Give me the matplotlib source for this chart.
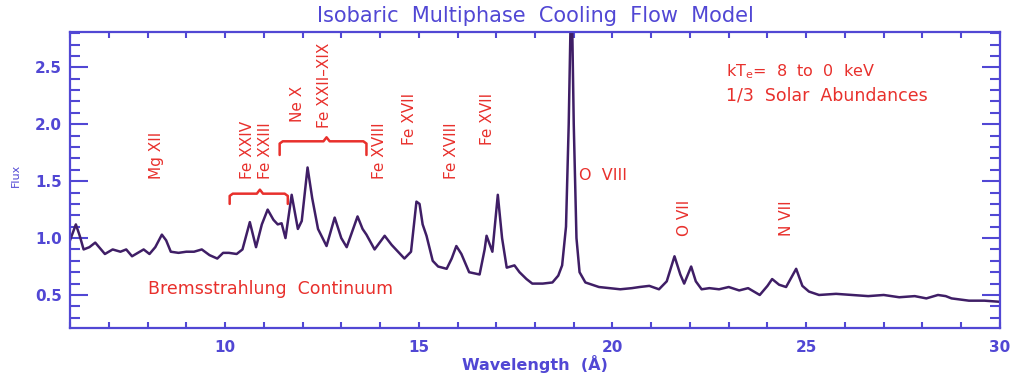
import matplotlib
matplotlib.use("Agg")
import matplotlib.pyplot as plt
from matplotlib.ticker import MultipleLocator

# Model spectrum: wavelength (Angstrom) and flux
wavelength = [
    6.0, 6.15, 6.25, 6.35, 6.5, 6.65, 6.8, 6.9, 7.1, 7.3, 7.45, 7.6, 7.8, 7.9,
    8.05, 8.2, 8.37, 8.48, 8.6, 8.8, 9.0, 9.2, 9.4, 9.6, 9.8, 9.95, 10.1, 10.3,
    10.45, 10.64, 10.8, 10.95, 11.1, 11.25, 11.36, 11.46, 11.56, 11.72, 11.88,
    11.98, 12.13, 12.25, 12.4, 12.62, 12.83, 13.0, 13.14, 13.42, 13.55, 13.65,
    13.86, 14.12, 14.3, 14.63, 14.8, 14.94, 15.02, 15.1, 15.2, 15.36, 15.5,
    15.72, 15.85, 15.97, 16.1, 16.3, 16.57, 16.7, 16.75, 16.9, 17.04, 17.15,
    17.27, 17.47, 17.6, 17.78, 17.93, 18.2, 18.45, 18.6, 18.7, 18.8, 18.87,
    18.94, 19.0, 19.07, 19.15, 19.3, 19.65, 20.2, 20.5, 20.7, 20.95, 21.2,
    21.4, 21.6, 21.75, 21.85, 22.03, 22.15, 22.3, 22.5, 22.75, 23.0, 23.27,
    23.5, 23.8, 24.0, 24.12, 24.3, 24.48, 24.74, 24.9, 25.07, 25.33, 25.77,
    26.2, 26.6, 27.0, 27.4, 27.8, 28.1, 28.4, 28.6, 28.75, 29.2, 29.6, 30.0,
]
flux = [
    0.98, 1.12, 1.02, 0.90, 0.92, 0.96, 0.90, 0.86, 0.90, 0.88, 0.90, 0.84, 0.88, 0.90,
    0.86, 0.92, 1.03, 0.98, 0.88, 0.87, 0.88, 0.88, 0.90, 0.85, 0.82, 0.87, 0.87, 0.86,
    0.90, 1.14, 0.92, 1.12, 1.25, 1.16, 1.12, 1.13, 1.00, 1.38, 1.08,
    1.15, 1.62, 1.35, 1.08, 0.93, 1.18, 1.00, 0.92, 1.19, 1.08, 1.03,
    0.90, 1.02, 0.94, 0.82, 0.88, 1.32, 1.30, 1.12, 1.02, 0.80, 0.75,
    0.73, 0.82, 0.93, 0.86, 0.70, 0.68, 0.90, 1.02, 0.88, 1.38, 1.00,
    0.74, 0.76, 0.70, 0.64, 0.60, 0.60, 0.61, 0.67, 0.76, 1.10, 2.00,
    3.30, 2.00, 1.00, 0.70, 0.61, 0.57, 0.55, 0.56, 0.57, 0.58, 0.55,
    0.62, 0.84, 0.68, 0.60, 0.75, 0.62, 0.55, 0.56, 0.55, 0.57, 0.54,
    0.56, 0.50, 0.58, 0.64, 0.59, 0.57, 0.73, 0.58, 0.53, 0.50, 0.51,
    0.50, 0.49, 0.50, 0.48, 0.49, 0.47, 0.50, 0.49, 0.47, 0.45, 0.45, 0.44,
]

# Line identifications: (label, wavelength, flux at text base)
line_ids = [
    ("Mg XII", 8.24, 1.52),
    ("Fe XXIV", 10.59, 1.52),
    ("Fe XXIII", 11.05, 1.52),
    ("Ne X", 11.88, 2.02),
    ("Fe XXII\u2013XIX", 12.57, 1.97),
    ("Fe XVIII", 13.99, 1.52),
    ("Fe XVII", 14.76, 1.82),
    ("Fe XVIII", 15.85, 1.52),
    ("Fe XVII", 16.77, 1.82),
    ("O VII", 21.85, 1.02),
    ("N VII", 24.50, 1.02),
]

# Braces grouping blended lines: (x start, x end, tip x, line y, depth)
braces = [
    (10.12, 11.62, 10.90, 1.39, 0.09),
    (11.41, 13.65, 12.62, 1.85, 0.12),
]

BLUE = "#5147d4"
RED = "#e8302c"
LINE = "#3f1e66"

fig = plt.figure(figsize=(10.21, 3.78), dpi=100)
ax = fig.add_axes([0.0686, 0.1323, 0.9108, 0.783])

ax.plot(wavelength, flux, color=LINE, lw=1.8, solid_joinstyle="round")
ax.set_xlim(6, 30)
ax.set_ylim(0.21, 2.81)

# axis styling
for sp in ax.spines.values():
    sp.set_color(BLUE)
    sp.set_linewidth(1.6)
ax.xaxis.set_major_locator(MultipleLocator(5))
ax.xaxis.set_minor_locator(MultipleLocator(1))
ax.yaxis.set_major_locator(MultipleLocator(0.5))
ax.yaxis.set_minor_locator(MultipleLocator(0.1))
ax.tick_params(axis="x", which="both", direction="in", top=True, bottom=True,
               length=4, width=1.5, color=BLUE, labelcolor=BLUE, labelsize=11, pad=9)
ax.tick_params(axis="y", which="major", direction="in", left=True, right=True,
               length=13, width=1.5, color=BLUE, labelcolor=BLUE, labelsize=11, pad=6)
ax.tick_params(axis="y", which="minor", direction="in", left=True, right=True,
               length=7, width=1.5, color=BLUE)
ax.set_yticks([0.5, 1.0, 1.5, 2.0, 2.5])
ax.set_yticklabels(["0.5", "1.0", "1.5", "2.0", "2.5"], fontweight="bold")
ax.set_xticklabels([f"{int(v)}" for v in ax.get_xticks()], fontweight="bold")

fig.text(0.524, 0.958, "Isobaric  Multiphase  Cooling  Flow  Model", color=BLUE,
         fontsize=15, ha="center", va="center")
ax.set_xlabel("Wavelength  (\u00c5)", color=BLUE, fontsize=11.5,
              fontweight="bold", labelpad=0)
fig.text(0.0157, 0.537, "Flux", rotation=90, color=BLUE, fontsize=8,
         ha="center", va="center")

# line identifications
for label, x, y in line_ids:
    ax.text(x, y, label, rotation=90, color=RED, fontsize=11,
            ha="center", va="bottom")
ax.text(19.14, 1.55, "O  VIII", color=RED, fontsize=11.5, ha="left", va="center")
ax.text(22.93, 2.46, r"kT$_{\rm e}$=  8  to  0  keV", color=RED, fontsize=11.5,
        ha="left", va="center")
ax.text(22.93, 2.25, "1/3  Solar  Abundances", color=RED, fontsize=12.5,
        ha="left", va="center")
ax.text(8.0, 0.55, "Bremsstrahlung  Continuum", color=RED, fontsize=12.5,
        ha="left", va="center")

# curly braces
for x0, x1, xt, yl, d in braces:
    r = 0.08
    bx = [x0, x0, x0 + r, xt - r, xt, xt + r, x1 - r, x1, x1]
    by = [yl - d, yl - 0.02, yl, yl, yl + 0.035, yl, yl, yl - 0.02, yl - d]
    ax.plot(bx, by, color=RED, lw=1.8, solid_joinstyle="round",
            solid_capstyle="round")

fig.savefig("out.png", dpi=100)
